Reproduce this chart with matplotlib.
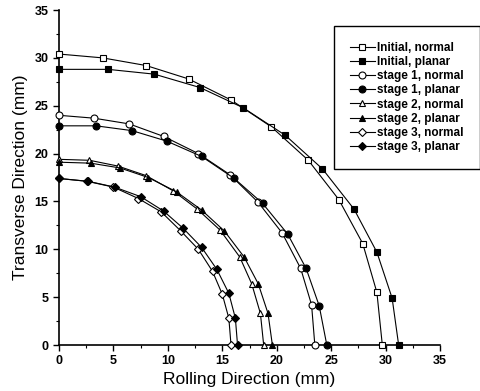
import numpy as np
import matplotlib
matplotlib.use("Agg")
import matplotlib.pyplot as plt
from matplotlib.ticker import MultipleLocator

plt.rcParams['font.family'] = ['Liberation Sans', 'DejaVu Sans']

# data (mm)
init_n_x = [0, 4.0, 8.0, 11.9, 15.8, 19.5, 22.9, 25.7, 27.9, 29.2, 29.7]
init_n_y = [30.4, 30.0, 29.2, 27.8, 25.6, 22.8, 19.3, 15.2, 10.6, 5.5, 0]
init_p_x = [0, 4.5, 8.75, 12.95, 16.9, 20.8, 24.2, 27.1, 29.2, 30.6, 31.2]
init_p_y = [28.8, 28.8, 28.3, 26.9, 24.8, 21.9, 18.4, 14.2, 9.7, 4.9, 0]

s1_n_x = [0, 3.2, 6.45, 9.6, 12.8, 15.7, 18.3, 20.5, 22.2, 23.2, 23.5]
s1_n_y = [24.0, 23.7, 23.1, 21.8, 20.0, 17.8, 14.9, 11.7, 8.0, 4.2, 0]
s1_p_x = [0, 3.4, 6.7, 9.9, 13.1, 16.1, 18.7, 21.0, 22.7, 23.9, 24.6]
s1_p_y = [22.9, 22.9, 22.4, 21.3, 19.7, 17.4, 14.8, 11.6, 8.0, 4.1, 0]

s2_n_x = [0, 2.8, 5.4, 8.0, 10.5, 12.7, 14.8, 16.6, 17.7, 18.5, 18.8]
s2_n_y = [19.4, 19.3, 18.7, 17.7, 16.1, 14.2, 12.0, 9.2, 6.4, 3.3, 0]
s2_p_x = [0, 2.9, 5.6, 8.2, 10.8, 13.1, 15.2, 17.0, 18.3, 19.2, 19.6]
s2_p_y = [19.1, 19.0, 18.5, 17.5, 16.0, 14.1, 11.9, 9.2, 6.4, 3.3, 0]

s3_n_x = [0, 2.6, 5.0, 7.3, 9.4, 11.2, 12.8, 14.1, 15.0, 15.6, 15.8]
s3_n_y = [17.4, 17.1, 16.5, 15.3, 13.9, 11.9, 10.0, 7.7, 5.3, 2.8, 0]
s3_p_x = [0, 2.7, 5.1, 7.5, 9.6, 11.4, 13.1, 14.5, 15.6, 16.2, 16.4]
s3_p_y = [17.4, 17.1, 16.5, 15.5, 14.0, 12.2, 10.2, 7.9, 5.4, 2.8, 0]

labels = ["Initial, normal", "Initial, planar", "stage 1, normal", "stage 1, planar",
          "stage 2, normal", "stage 2, planar", "stage 3, normal", "stage 3, planar"]

series = [(init_n_x, init_n_y, 's', 'white'), (init_p_x, init_p_y, 's', 'black'),
          (s1_n_x, s1_n_y, 'o', 'white'), (s1_p_x, s1_p_y, 'o', 'black'),
          (s2_n_x, s2_n_y, '^', 'white'), (s2_p_x, s2_p_y, '^', 'black'),
          (s3_n_x, s3_n_y, 'D', 'white'), (s3_p_x, s3_p_y, 'D', 'black')]

fig = plt.figure(figsize=(4.81, 3.91), dpi=100)
ax = fig.add_axes([0.1227, 0.1176, 0.7921, 0.8568])

for (xs, ys, m, fc), lab in zip(series, labels):
    ms = 5 if m != 'D' else 4.5
    ax.plot(xs, ys, color='black', lw=0.8, marker=m, ms=ms, mfc=fc, mec='black',
            mew=0.8, label=lab, clip_on=False, zorder=3)

ax.set_xlim(0, 35)
ax.set_ylim(0, 35)
ax.xaxis.set_major_locator(MultipleLocator(5))
ax.xaxis.set_minor_locator(MultipleLocator(2.5))
ax.yaxis.set_major_locator(MultipleLocator(5))
ax.yaxis.set_minor_locator(MultipleLocator(2.5))
ax.spines['top'].set_visible(False)
ax.spines['right'].set_visible(False)
ax.spines['left'].set_linewidth(1.2)
ax.spines['bottom'].set_linewidth(1.2)
ax.tick_params(which='major', direction='out', length=4, width=1, labelsize=9)
ax.tick_params(which='minor', direction='out', length=2, width=0.8)
for t in ax.get_xticklabels() + ax.get_yticklabels():
    t.set_fontweight('bold')

ax.set_xlabel("Rolling Direction (mm)", fontsize=12.5, labelpad=3)
ax.set_ylabel("Transverse Direction (mm)", fontsize=12.5, labelpad=5)

leg = ax.legend(loc='upper left', bbox_to_anchor=(0.722, 0.952), borderaxespad=0,
                fancybox=False, edgecolor='black', framealpha=1, handlelength=2.1,
                handletextpad=0.2, labelspacing=0.18, borderpad=1.35,
                prop={'size': 8.5, 'weight': 'bold'})
leg.get_frame().set_linewidth(1.0)

fig.savefig("out.png", dpi=100)
